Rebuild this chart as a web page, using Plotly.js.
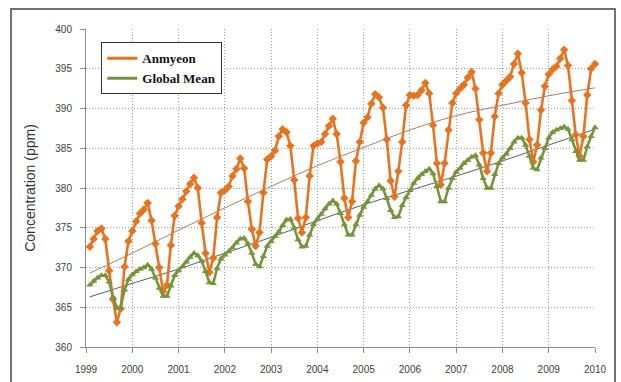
<!DOCTYPE html>
<html>
<head>
<meta charset="utf-8">
<script src="https://cdn.plot.ly/plotly-3.0.1.min.js"></script>
<style>
  html, body { margin: 0; padding: 0; background: #ffffff; }
  #chart { width: 621px; height: 382px; }
</style>
</head>
<body>
<div id="chart"></div>
<script>
// Monthly CO2 concentration (ppm), January 1999 - December 2009
const startYear = 1999;
const yearTicks = [1999, 2000, 2001, 2002, 2003, 2004, 2005, 2006, 2007, 2008, 2009, 2010];

const anmyeon = [
  372.6, 373.6, 374.6, 374.9, 373.6, 369.6, 366.0, 363.1, 364.8, 370.1, 373.3, 374.6, // 1999
  375.8, 376.8, 377.3, 378.1, 375.9, 373.0, 370.0, 367.0, 367.8, 372.8, 376.5, 377.7, // 2000
  378.6, 379.6, 380.5, 381.3, 380.0, 375.6, 371.8, 369.4, 371.2, 376.3, 379.4, 379.7, // 2001
  380.2, 381.5, 382.4, 383.7, 382.5, 378.3, 374.8, 372.7, 374.4, 379.4, 383.6, 384.0, // 2002
  384.7, 386.5, 387.4, 387.0, 385.3, 381.0, 376.2, 374.4, 376.3, 381.5, 385.3, 385.6, // 2003
  385.8, 386.8, 387.8, 388.7, 386.8, 383.3, 378.7, 376.3, 378.3, 383.4, 385.8, 388.2, // 2004
  388.9, 390.6, 391.8, 391.4, 390.1, 386.1, 380.9, 378.9, 382.1, 385.8, 390.4, 391.7, // 2005
  391.6, 391.7, 392.3, 393.2, 391.9, 387.9, 383.1, 380.4, 383.1, 387.3, 390.7, 391.9, // 2006
  392.5, 393.0, 393.9, 394.6, 392.5, 388.6, 384.4, 382.1, 384.4, 389.0, 391.9, 393.0, // 2007
  393.5, 394.0, 395.6, 396.9, 394.5, 390.7, 386.1, 383.3, 385.4, 389.8, 392.8, 394.3, // 2008
  394.9, 395.3, 396.3, 397.4, 395.4, 391.0, 386.7, 384.0, 386.5, 391.7, 395.0, 395.6  // 2009
];

const globalMean = [
  367.8, 368.3, 368.7, 369.0, 369.0, 368.2, 366.3, 364.9, 365.0, 367.2, 368.5, 369.1, // 1999
  369.5, 369.8, 370.0, 370.3, 369.8, 368.7, 367.4, 366.4, 366.4, 367.7, 369.0, 369.6, // 2000
  370.1, 370.7, 371.3, 371.8, 371.5, 370.8, 369.5, 368.1, 368.0, 369.9, 371.1, 371.6, // 2001
  372.0, 372.5, 373.1, 373.6, 373.7, 373.0, 371.8, 370.4, 370.1, 371.4, 372.7, 373.3, // 2002
  373.9, 374.5, 375.3, 376.0, 376.1, 375.0, 373.5, 372.6, 372.7, 374.1, 375.4, 376.1, // 2003
  376.7, 377.4, 378.0, 378.4, 378.0, 376.8, 375.4, 374.1, 374.1, 375.4, 376.6, 377.6, // 2004
  378.3, 379.1, 379.9, 380.3, 379.9, 378.7, 377.2, 376.3, 376.4, 377.8, 378.8, 379.7, // 2005
  380.6, 381.2, 381.7, 382.1, 382.4, 381.8, 380.2, 378.3, 378.3, 380.0, 381.2, 382.0, // 2006
  382.5, 383.1, 383.5, 383.9, 384.1, 382.9, 381.2, 380.0, 380.0, 381.7, 383.1, 383.8, // 2007
  384.3, 385.0, 385.8, 386.3, 386.3, 385.4, 384.0, 382.5, 382.3, 383.8, 385.0, 386.3, // 2008
  387.0, 387.3, 387.5, 387.7, 387.4, 386.1, 384.6, 383.5, 383.5, 385.2, 386.5, 387.6  // 2009
];

// Smoothed long-term trends
const trendX = [1999.08, 2000, 2001, 2002, 2003, 2004, 2005, 2006, 2007, 2008, 2009, 2010];
const anmyeonTrend = [369.3, 371.8, 374.7, 377.5, 380.2, 382.8, 385.1, 387.3, 389.1, 390.4, 391.6, 392.6];
const globalTrend  = [366.3, 368.0, 369.8, 371.8, 373.8, 375.9, 377.9, 379.7, 381.5, 383.4, 385.4, 387.4];

// each monthly value sits at the end of its month on a decimal-year axis
const monthX = anmyeon.map((_, i) => startYear + (i + 1) / 12);

const ORANGE = '#E8731F';
const GREEN = '#76943A';

const traces = [
  {
    x: trendX, y: anmyeonTrend, mode: 'lines', type: 'scatter',
    line: { color: '#a08066', width: 1, shape: 'spline' },
    showlegend: false, hoverinfo: 'skip'
  },
  {
    x: trendX, y: globalTrend, mode: 'lines', type: 'scatter',
    line: { color: '#5a6068', width: 1, shape: 'spline' },
    showlegend: false, hoverinfo: 'skip'
  },
  {
    x: monthX, y: anmyeon, mode: 'lines+markers', type: 'scatter',
    name: 'Anmyeon', showlegend: false, cliponaxis: false,
    line: { color: ORANGE, width: 2.6 },
    marker: { symbol: 'diamond', size: 6.5, color: ORANGE }
  },
  {
    x: monthX, y: globalMean, mode: 'lines+markers', type: 'scatter',
    name: 'Global Mean', showlegend: false, cliponaxis: false,
    line: { color: GREEN, width: 2.6 },
    marker: { symbol: 'triangle-up', size: 6.5, color: GREEN }
  },
  // legend entries (line only)
  { x: [null], y: [null], mode: 'lines', name: 'Anmyeon', line: { color: ORANGE, width: 3 } },
  { x: [null], y: [null], mode: 'lines', name: 'Global Mean', line: { color: GREEN, width: 3 } }
];

const tickFont = { family: 'Liberation Sans, Arial, sans-serif', size: 10, color: '#404040' };
const GRID = '#9a9a9a';

const layout = {
  width: 621, height: 382,
  margin: { l: 86, r: 26, t: 29, b: 35 },
  paper_bgcolor: '#ffffff', plot_bgcolor: '#ffffff',
  showlegend: true,
  legend: {
    x: 0.03, y: 0.958, xanchor: 'left', yanchor: 'top',
    bgcolor: '#ffffff', bordercolor: '#333333', borderwidth: 1,
    font: { family: 'Liberation Serif, Times New Roman, serif', size: 13, color: '#111111', weight: 'bold' },
    itemwidth: 30
  },
  xaxis: {
    range: [1999, 2010], tickvals: yearTicks, ticktext: yearTicks.map(String),
    showgrid: true, gridcolor: GRID, griddash: '1px,2px', gridwidth: 1,
    showline: true, linecolor: '#8a8a8a', linewidth: 1,
    ticks: 'outside', ticklen: 5, tickcolor: '#8a8a8a', ticklabelstandoff: 8,
    tickfont: tickFont, zeroline: false, fixedrange: true
  },
  yaxis: {
    range: [360, 400], dtick: 5, tick0: 360,
    showgrid: true, gridcolor: GRID, griddash: '1px,2px', gridwidth: 1,
    showline: true, linecolor: '#8a8a8a', linewidth: 1,
    ticks: 'outside', ticklen: 5, tickcolor: '#8a8a8a', ticklabelstandoff: 6,
    tickfont: tickFont, zeroline: false, fixedrange: true,
    title: { text: 'Concentration (ppm)', font: { family: 'Liberation Sans, Arial, sans-serif', size: 14, color: '#333333' }, standoff: 16 }
  },
  shapes: [
    {
      type: 'rect', xref: 'paper', yref: 'paper',
      x0: -0.1473, x1: 1.0393, y0: -0.16, y1: 1.0628,
      line: { color: '#444444', width: 1.5 }, fillcolor: 'rgba(0,0,0,0)', layer: 'below'
    }
  ]
};

Plotly.newPlot('chart', traces, layout, { staticPlot: true, displayModeBar: false });
</script>
</body>
</html>
